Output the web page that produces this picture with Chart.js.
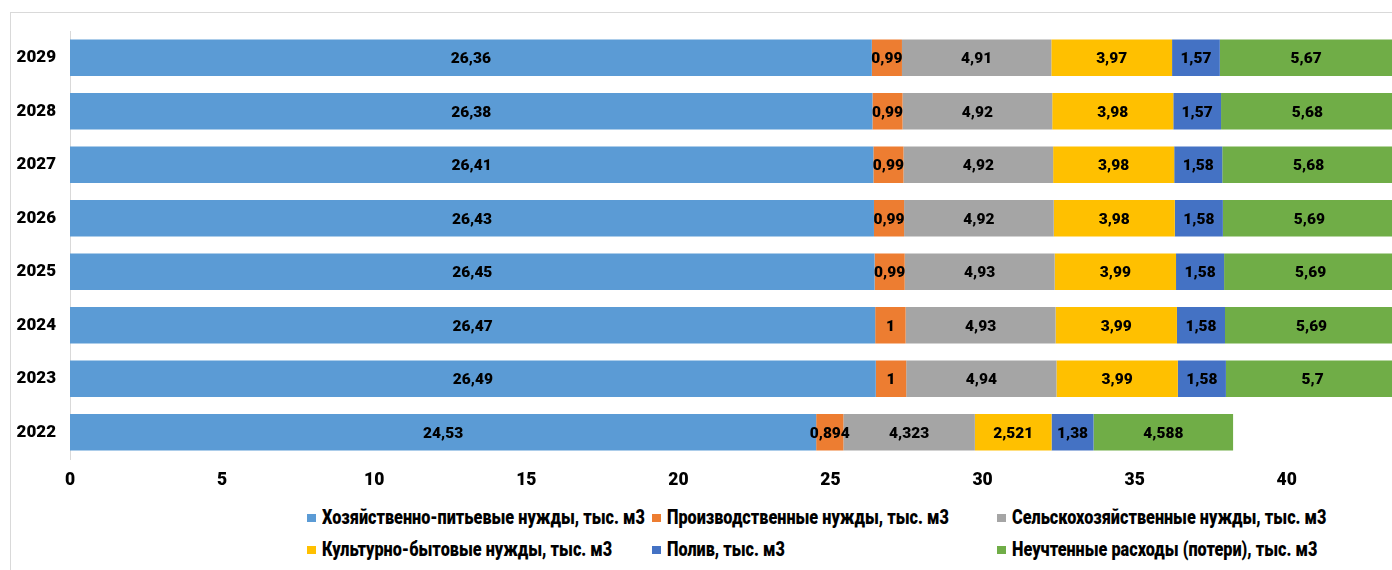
<!DOCTYPE html>
<html>
<head>
<meta charset="utf-8">
<script src="https://cdn.jsdelivr.net/npm/chart.js@4/dist/chart.umd.min.js"></script>
<style>
  html, body { margin: 0; padding: 0; background: #fff; overflow: hidden; }
  body { width: 1392px; height: 570px; position: relative; }
  #frame { position: absolute; left: 10px; top: 12px; width: 1500px; height: 600px; border: 1px solid #d9d9d9; box-sizing: border-box; }
  #wrap { position: absolute; left: 0; top: 0; width: 1392px; height: 500px; }
  .lg { position: absolute; font-family: Roboto, "DejaVu Sans", sans-serif; font-weight: 900; font-size: 19.5px; color: #000; white-space: nowrap; height: 20px; line-height: 20px; }
  .lg i { position: absolute; left: 0; top: 6px; width: 9px; height: 8px; }
  .lg span { position: absolute; left: 15px; top: 0; display: inline-block; transform-origin: 0 50%; }
</style>
</head>
<body>
<div id="frame"></div>
<div id="wrap"><canvas id="c"></canvas></div>
<div id="legend"></div>
<script>
const categories = ['2029', '2028', '2027', '2026', '2025', '2024', '2023', '2022'];
const seriesNames = [
  'Хозяйственно-питьевые нужды, тыс. м3',
  'Производственные нужды, тыс. м3',
  'Сельскохозяйственные нужды, тыс. м3',
  'Культурно-бытовые нужды, тыс. м3',
  'Полив, тыс. м3',
  'Неучтенные расходы (потери), тыс. м3'
];
const seriesColors = ['#5B9BD5', '#ED7D31', '#A5A5A5', '#FFC000', '#4472C4', '#70AD47'];
const householdDrinking = [26.36, 26.38, 26.41, 26.43, 26.45, 26.47, 26.49, 24.53];
const industrial = [0.99, 0.99, 0.99, 0.99, 0.99, 1, 1, 0.894];
const agricultural = [4.91, 4.92, 4.92, 4.92, 4.93, 4.93, 4.94, 4.323];
const cultural = [3.97, 3.98, 3.98, 3.98, 3.99, 3.99, 3.99, 2.521];
const irrigation = [1.57, 1.57, 1.58, 1.58, 1.58, 1.58, 1.58, 1.38];
const losses = [5.67, 5.68, 5.68, 5.69, 5.69, 5.69, 5.7, 4.588];
const xTicks = [0, 5, 10, 15, 20, 25, 30, 35, 40];

const seriesValues = [householdDrinking, industrial, agricultural, cultural, irrigation, losses];
const FONT = 'Roboto, "DejaVu Sans", sans-serif';

const labelPlugin = {
  id: 'segLabels',
  afterDatasetsDraw(chart) {
    const ctx = chart.ctx;
    ctx.save();
    ctx.font = '900 15.5px ' + FONT;
    ctx.fillStyle = '#000';
    ctx.textAlign = 'center';
    ctx.textBaseline = 'middle';
    chart.data.datasets.forEach((ds, di) => {
      const meta = chart.getDatasetMeta(di);
      meta.data.forEach((el, i) => {
        const txt = String(ds.data[i]).replace('.', ',');
        ctx.fillText(txt, (el.x + el.base) / 2, el.y + 1.5);
      });
    });
    ctx.restore();
  }
};

new Chart(document.getElementById('c'), {
  type: 'bar',
  data: {
    labels: categories,
    datasets: seriesNames.map((n, i) => ({
      label: n,
      data: seriesValues[i],
      backgroundColor: seriesColors[i],
      borderWidth: 0,
      categoryPercentage: 1,
      barPercentage: 0.68
    }))
  },
  options: {
    indexAxis: 'y',
    responsive: true,
    maintainAspectRatio: false,
    animation: false,
    layout: { padding: { top: 31, left: 0, right: 0, bottom: 0 } },
    plugins: { legend: { display: false }, tooltip: { enabled: false } },
    scales: {
      x: {
        stacked: true,
        min: 0,
        max: 43.46,
        afterBuildTicks(scale) { scale.ticks = xTicks.map(v => ({ value: v })); },
        afterFit(scale) { scale.height = 41; },
        grid: { display: false, drawTicks: false },
        border: { display: false },
        ticks: { color: '#000', font: { family: FONT, weight: '900', size: 17.5 }, padding: 11, maxRotation: 0 }
      },
      y: {
        stacked: true,
        afterFit(scale) { scale.width = 70; },
        grid: { display: false, drawTicks: false },
        border: { display: true, color: '#d9d9d9', width: 1 },
        ticks: { color: '#000', font: { family: FONT, weight: '900', size: 17 }, padding: 14 }
      }
    }
  },
  plugins: [labelPlugin]
});

const legendPos = [[307, 508], [652, 508], [997, 508], [307, 540], [652, 540], [997, 540]];
const lg = document.getElementById('legend');
const mctx = document.createElement('canvas').getContext('2d');
mctx.font = '900 19.5px ' + FONT;
const legendScale = 323 / mctx.measureText(seriesNames[0]).width;
seriesNames.forEach((n, i) => {
  const d = document.createElement('div');
  d.className = 'lg';
  d.style.left = legendPos[i][0] + 'px';
  d.style.top = legendPos[i][1] + 'px';
  const m = document.createElement('i');
  m.style.background = seriesColors[i];
  d.appendChild(m);
  const s = document.createElement('span');
  s.textContent = n;
  s.style.transform = 'scaleX(' + legendScale.toFixed(3) + ')';
  d.appendChild(s);
  lg.appendChild(d);
});
</script>
</body>
</html>
